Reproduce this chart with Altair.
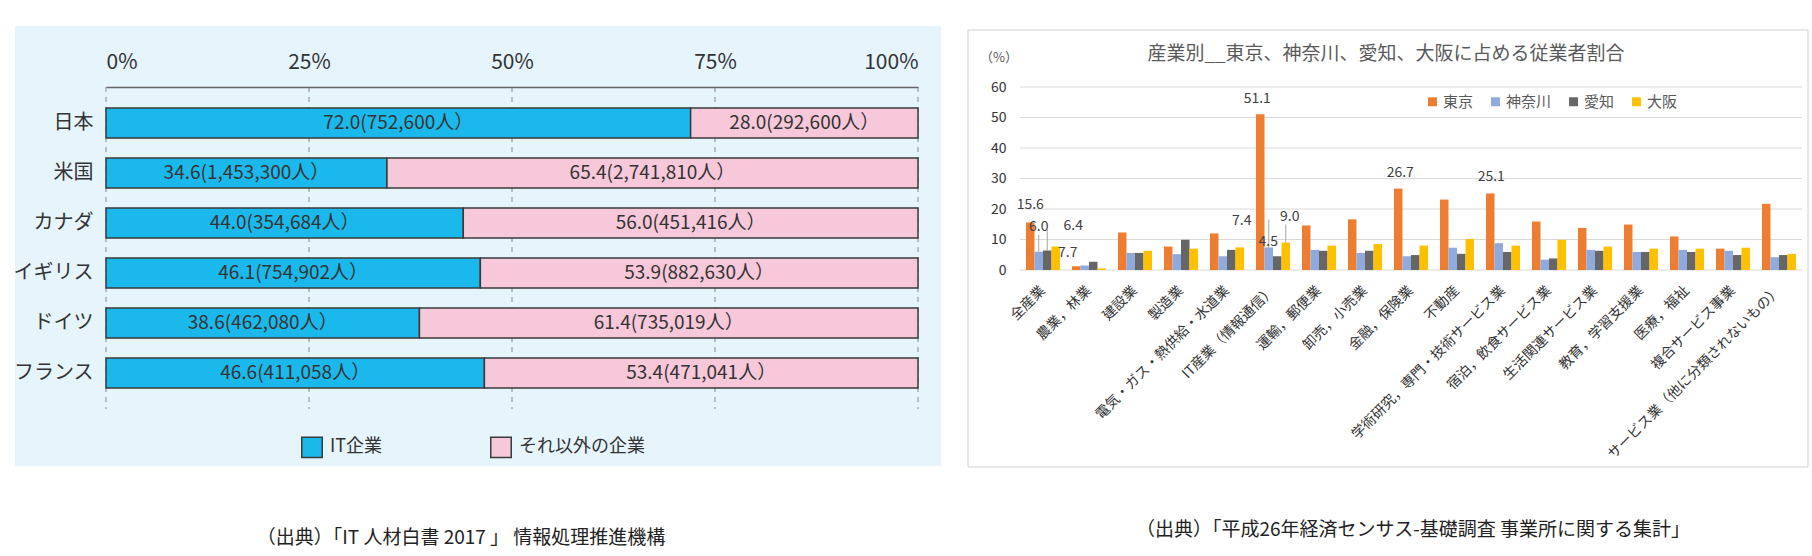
import altair as alt
import pandas as pd

FONT = "Noto Sans CJK JP"

# ---------------- Left chart data ----------------
countries = ["日本", "米国", "カナダ", "イギリス", "ドイツ", "フランス"]
it_share = [72.0, 34.6, 44.0, 46.1, 38.6, 46.6]
other_share = [28.0, 65.4, 56.0, 53.9, 61.4, 53.4]
it_people = ["752,600", "1,453,300", "354,684", "754,902", "462,080", "411,058"]
other_people = ["292,600", "2,741,810", "451,416", "882,630", "735,019", "471,041"]
seg_names = ["IT企業", "それ以外の企業"]
seg_colors = ["#1BB9EB", "#F7C8DA"]
left_ticks = [0, 25, 50, 75, 100]
left_caption = "（出典）「IT 人材白書 2017 」 情報処理推進機構"

# ---------------- Right chart data ----------------
industries = [
    "全産業", "農業，林業", "建設業", "製造業", "電気・ガス・熱供給・水道業",
    "IT産業（情報通信）", "運輸，郵便業", "卸売，小売業", "金融，保険業", "不動産",
    "学術研究，専門・技術サービス業", "宿泊，飲食サービス業", "生活関連サービス業",
    "教育，学習支援業", "医療，福祉", "複合サービス事業", "サービス業（他に分類されないもの）",
]
prefectures = ["東京", "神奈川", "愛知", "大阪"]
pref_colors = ["#ED7D31", "#8FAADC", "#666666", "#FFC000"]
tokyo = [15.6, 1.2, 12.3, 7.7, 12.0, 51.1, 14.6, 16.6, 26.7, 23.1, 25.1, 15.9, 13.8, 14.9, 11.0, 7.0, 21.7]
kanagawa = [6.0, 1.5, 5.6, 5.2, 4.5, 7.4, 6.6, 5.6, 4.5, 7.3, 8.8, 3.4, 6.6, 5.9, 6.6, 6.3, 4.2]
aichi = [6.4, 2.7, 5.6, 9.9, 6.6, 4.5, 6.3, 6.3, 4.9, 5.3, 5.9, 3.8, 6.3, 5.9, 5.9, 4.9, 4.9]
osaka = [7.7, 0.5, 6.3, 7.0, 7.4, 9.0, 8.0, 8.5, 8.0, 10.2, 8.0, 9.9, 7.7, 7.0, 7.0, 7.3, 5.3]
right_ticks = [0, 10, 20, 30, 40, 50, 60]
right_title = "産業別__東京、神奈川、愛知、大阪に占める従業者割合"
right_unit = "（%）"
right_caption = "（出典）「平成26年経済センサス-基礎調査 事業所に関する集計」"

# labelled bars: (industry, prefecture, dx, dy, leader length in px)
value_labels = [
    ("全産業", "東京", 0, -17, 0), ("全産業", "神奈川", 0, -25, 17),
    ("全産業", "愛知", 26, -24, 22), ("全産業", "大阪", 12, 6, 0),
    ("IT産業（情報通信）", "東京", -3, -15, 0), ("IT産業（情報通信）", "神奈川", -27, -26, 28),
    ("IT産業（情報通信）", "愛知", -9, -14, 0), ("IT産業（情報通信）", "大阪", 4, -26, 18),
    ("金融，保険業", "東京", 2, -16, 0), ("学術研究，専門・技術サービス業", "東京", 1, -16, 0),
]

# ---------------- Build tables ----------------
rows = []
for i, c in enumerate(countries):
    rows.append(dict(country=c, seg=seg_names[0], ord=0, pct=it_share[i],
                     label=f"{it_share[i]:.1f}({it_people[i]}人）"))
    rows.append(dict(country=c, seg=seg_names[1], ord=1, pct=other_share[i],
                     label=f"{other_share[i]:.1f}({other_people[i]}人）"))
left_df = pd.DataFrame(rows)

series = [tokyo, kanagawa, aichi, osaka]
rrows = []
for p, vals in zip(prefectures, series):
    for ind, v in zip(industries, vals):
        rrows.append(dict(industry=ind, pref=p, value=v))
right_df = pd.DataFrame(rrows)

left_tick_df = pd.DataFrame({"tick": left_ticks})
right_tick_df = pd.DataFrame({"tick": right_ticks})

# ---------------- Left chart ----------------
LW, LH = 812, 322
x_left_scale = alt.Scale(domain=[0, 100], nice=False)
x_left_axis = alt.Axis(orient="top", values=left_ticks, labelExpr="datum.value + '%'",
                       grid=False, domainColor="#666666", domainWidth=1.5, ticks=False,
                       labelFlush=True, labelFontSize=21, labelColor="#333333",
                       labelPadding=15, title=None, labelFont=FONT, zindex=1)

base_l = alt.Chart(left_df).transform_stack(
    stack="pct", groupby=["country"], as_=["x0", "x1"],
    sort=[alt.SortField("ord", order="ascending")],
).transform_calculate(xm="(datum.x0 + datum.x1) / 2")

y_left = alt.Y("country:N", sort=countries,
               scale=alt.Scale(paddingInner=0.4, paddingOuter=0.42),
               axis=alt.Axis(title=None, domain=False, ticks=False, grid=False,
                             labelFontSize=20, labelPadding=13, labelColor="#333333",
                             labelFont=FONT, zindex=1))

grid_l = alt.Chart(left_tick_df).mark_rule(
    color="#8a8a8a", strokeWidth=1, strokeDash=[5, 5]).encode(
    x=alt.X("tick:Q", scale=x_left_scale, axis=x_left_axis))

bars_l = base_l.mark_bar(stroke="#3a3a3a", strokeWidth=1.5).encode(
    x=alt.X("x0:Q", scale=x_left_scale, axis=x_left_axis),
    x2="x1:Q",
    y=y_left,
    color=alt.Color("seg:N", scale=alt.Scale(domain=seg_names, range=seg_colors),
                    legend=alt.Legend(orient="none", legendX=195, legendY=349,
                                      direction="horizontal", title=None,
                                      symbolType="square", symbolSize=420,
                                      symbolStrokeColor="#3a3a3a", symbolStrokeWidth=1.5,
                                      labelFontSize=18, labelOffset=7, columnPadding=104,
                                      labelColor="#333333", labelFont=FONT, zindex=1)),
)

text_l = base_l.mark_text(fontSize=19, color="#333333", font=FONT).encode(
    x=alt.X("xm:Q", scale=x_left_scale, axis=x_left_axis), y=y_left, text="label:N")

bg_l = alt.Chart(alt.Data(values=[{}])).mark_rect(fill="#E6F4FC").encode(
    x=alt.value(-91), x2=alt.value(835), y=alt.value(-61), y2=alt.value(379))

cap_l = alt.Chart(alt.Data(values=[{"t": left_caption}])).mark_text(
    fontSize=19, color="#222222", font=FONT).encode(
    x=alt.value(355), y=alt.value(451), text="t:N")

left = alt.layer(bg_l, grid_l, bars_l, text_l, cap_l).properties(width=LW, height=LH)

# ---------------- Right chart ----------------
RW, RH = 782, 183
YMAX = 60
y_right_scale = alt.Scale(domain=[0, YMAX], nice=False)
y_right_axis = alt.Axis(values=right_ticks, title=None, domain=False, ticks=False,
                        grid=False, labelFontSize=14, labelPadding=14,
                        labelColor="#333333", labelFont=FONT, zindex=1)
x_right = alt.X("industry:N", sort=industries,
                scale=alt.Scale(paddingInner=0.26, paddingOuter=0.13),
                axis=alt.Axis(title=None, labelAngle=315, labelAlign="right",
                              labelBaseline="middle", labelFontSize=14, labelPadding=18,
                              labelLimit=400, domain=False, ticks=False, grid=False,
                              labelColor="#333333", labelFont=FONT, zindex=1))
xoff_right = alt.XOffset("pref:N", sort=prefectures,
                         scale=alt.Scale(paddingInner=0, paddingOuter=0))

grid_r = alt.Chart(right_tick_df).mark_rule(color="#d9d9d9", strokeWidth=1).encode(
    y=alt.Y("tick:Q", scale=y_right_scale, axis=y_right_axis))

bars_r = alt.Chart(right_df).mark_bar().encode(
    x=x_right,
    xOffset=xoff_right,
    y=alt.Y("value:Q", scale=y_right_scale, axis=y_right_axis),
    color=alt.Color("pref:N", sort=prefectures,
                    scale=alt.Scale(domain=prefectures, range=pref_colors),
                    legend=alt.Legend(orient="none", legendX=405, legendY=7,
                                      direction="horizontal", title=None,
                                      symbolType="square", symbolSize=80,
                                      symbolStrokeWidth=0, labelFontSize=15,
                                      columnPadding=14, labelOffset=3,
                                      labelColor="#595959", labelFont=FONT, zindex=1)),
)

label_layers = []
for ind, pref, dx, dy, lead in value_labels:
    sel = right_df_filter = (alt.datum.industry == ind) & (alt.datum.pref == pref)
    if lead:
        label_layers.append(
            alt.Chart(right_df).transform_filter(sel).transform_calculate(
                top=f"datum.value + {lead * YMAX / RH}"
            ).mark_rule(color="#a6a6a6", strokeWidth=1).encode(
                x=x_right,
                xOffset=xoff_right,
                y=alt.Y("value:Q", scale=y_right_scale, axis=y_right_axis),
                y2="top:Q",
            )
        )
    label_layers.append(
        alt.Chart(right_df).transform_filter(sel).mark_text(
            dx=dx, dy=dy, fontSize=14, color="#404040", font=FONT).encode(
            x=x_right,
            xOffset=xoff_right,
            y=alt.Y("value:Q", scale=y_right_scale, axis=y_right_axis),
            text=alt.Text("value:Q", format=".1f"),
        )
    )

border_r = alt.Chart(alt.Data(values=[{}])).mark_rect(
    fill="white", stroke="#d0d0d0", strokeWidth=1).encode(
    x=alt.value(-52), x2=alt.value(788), y=alt.value(-57), y2=alt.value(380))

title_r = alt.Chart(alt.Data(values=[{"t": right_title}])).mark_text(
    fontSize=19, color="#595959", font=FONT).encode(
    x=alt.value(366), y=alt.value(-33), text="t:N")

unit_r = alt.Chart(alt.Data(values=[{"t": right_unit}])).mark_text(
    fontSize=13, color="#595959", font=FONT).encode(
    x=alt.value(-21), y=alt.value(-29), text="t:N")

cap_r = alt.Chart(alt.Data(values=[{"t": right_caption}])).mark_text(
    fontSize=19, color="#222222", font=FONT).encode(
    x=alt.value(393), y=alt.value(443), text="t:N")

right = alt.layer(border_r, grid_r, bars_r, *label_layers, title_r, unit_r, cap_r).properties(
    width=RW, height=RH)

chart = alt.hconcat(left, right, spacing=102, bounds="flush").resolve_scale(
    color="independent", x="independent", y="independent"
).resolve_legend(color="independent").properties(
    padding={"left": 12, "top": 25, "right": 0, "bottom": 0},
    background="white",
).configure_view(strokeWidth=0).configure(font=FONT)

chart.save("out.html", embed_options={"renderer": "svg", "actions": False})
